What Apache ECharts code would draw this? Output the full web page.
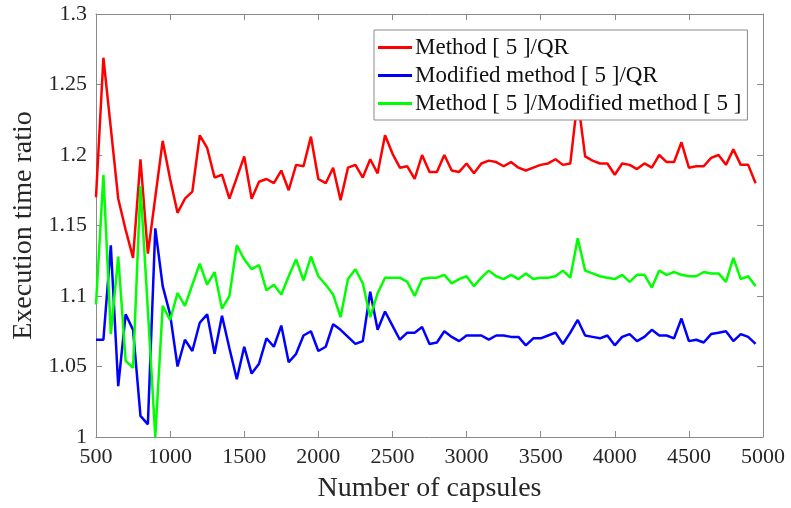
<!DOCTYPE html>
<html>
<head>
<meta charset="utf-8">
<script src="https://cdn.jsdelivr.net/npm/echarts@6/dist/echarts.min.js"></script>
<style>
  html, body { margin: 0; padding: 0; background: #fff; }
  #chart { width: 791px; height: 508px; }
</style>
</head>
<body>
<div id="chart"></div>
<script>
// number of capsules (x)
const capsules = [
  500, 550, 600, 650, 700, 750, 800, 850, 900, 950,
  1000, 1050, 1100, 1150, 1200, 1250, 1300, 1350, 1400, 1450,
  1500, 1550, 1600, 1650, 1700, 1750, 1800, 1850, 1900, 1950,
  2000, 2050, 2100, 2150, 2200, 2250, 2300, 2350, 2400, 2450,
  2500, 2550, 2600, 2650, 2700, 2750, 2800, 2850, 2900, 2950,
  3000, 3050, 3100, 3150, 3200, 3250, 3300, 3350, 3400, 3450,
  3500, 3550, 3600, 3650, 3700, 3750, 3800, 3850, 3900, 3950,
  4000, 4050, 4100, 4150, 4200, 4250, 4300, 4350, 4400, 4450,
  4500, 4550, 4600, 4650, 4700, 4750, 4800, 4850, 4900, 4950
];

// Method [5] / QR
const methodQR = [
  1.170, 1.269, 1.219, 1.169, 1.147, 1.127, 1.197, 1.130, 1.170, 1.210,
  1.183, 1.159, 1.169, 1.174, 1.214, 1.205, 1.184, 1.186, 1.169, 1.184,
  1.199, 1.169, 1.181, 1.183, 1.180, 1.189, 1.175, 1.193, 1.192, 1.213,
  1.183, 1.180, 1.191, 1.168, 1.191, 1.193, 1.184, 1.197, 1.187, 1.214,
  1.201, 1.191, 1.192, 1.183, 1.200, 1.188, 1.188, 1.200, 1.189, 1.188,
  1.194, 1.187, 1.194, 1.196, 1.195, 1.192, 1.195, 1.191, 1.189, 1.191,
  1.193, 1.194, 1.197, 1.193, 1.194, 1.240, 1.199, 1.196, 1.194, 1.194,
  1.186, 1.194, 1.193, 1.190, 1.194, 1.191, 1.200, 1.195, 1.195, 1.209,
  1.191, 1.192, 1.192, 1.198, 1.200, 1.193, 1.204, 1.193, 1.193, 1.180
];

// Modified method [5] / QR
const modifiedQR = [
  1.069, 1.069, 1.136, 1.036, 1.087, 1.076, 1.015, 1.009, 1.148, 1.107,
  1.087, 1.050, 1.069, 1.061, 1.081, 1.087, 1.059, 1.086, 1.063, 1.041,
  1.064, 1.045, 1.052, 1.070, 1.064, 1.079, 1.053, 1.059, 1.072, 1.075,
  1.061, 1.064, 1.080, 1.076, 1.071, 1.066, 1.068, 1.103, 1.076, 1.089,
  1.079, 1.069, 1.074, 1.074, 1.078, 1.066, 1.067, 1.075, 1.071, 1.068,
  1.072, 1.072, 1.072, 1.069, 1.072, 1.072, 1.071, 1.071, 1.065, 1.070,
  1.070, 1.072, 1.074, 1.066, 1.074, 1.083, 1.072, 1.071, 1.070, 1.072,
  1.065, 1.071, 1.073, 1.068, 1.071, 1.076, 1.072, 1.072, 1.070, 1.084,
  1.068, 1.069, 1.067, 1.073, 1.074, 1.075, 1.068, 1.073, 1.071, 1.066
];

// Method [5] / Modified method [5]
const methodModified = [
  1.094, 1.186, 1.073, 1.128, 1.054, 1.049, 1.178, 1.090, 1.000, 1.093,
  1.083, 1.102, 1.093, 1.108, 1.123, 1.108, 1.117, 1.091, 1.100, 1.136,
  1.126, 1.119, 1.122, 1.104, 1.108, 1.101, 1.114, 1.126, 1.111, 1.128,
  1.114, 1.108, 1.101, 1.085, 1.112, 1.119, 1.109, 1.085, 1.102, 1.113,
  1.113, 1.113, 1.110, 1.100, 1.112, 1.113, 1.113, 1.115, 1.109, 1.112,
  1.114, 1.107, 1.113, 1.118, 1.114, 1.112, 1.115, 1.112, 1.116, 1.112,
  1.113, 1.113, 1.114, 1.118, 1.113, 1.141, 1.118, 1.116, 1.114, 1.113,
  1.112, 1.115, 1.110, 1.115, 1.115, 1.106, 1.118, 1.115, 1.117, 1.115,
  1.114, 1.114, 1.117, 1.116, 1.116, 1.110, 1.127, 1.112, 1.114, 1.107
];

const seriesNames = [
  "Method [ 5 ]/QR",
  "Modified method [ 5 ]/QR",
  "Method [ 5 ]/Modified method [ 5 ]"
];

const serif = "Liberation Serif";
const axisGray = "#8a8a8a";
const textDark = "#262626";

const toPairs = (vals) => vals.map((v, i) => [capsules[i], v]);

const lineSeries = (name, vals, color) => ({
  name: name,
  type: "line",
  data: toPairs(vals),
  symbol: "none",
  lineStyle: { color: color, width: 2.5 },
  itemStyle: { color: color },
  xAxisIndex: 0,
  yAxisIndex: 0,
});

const chart = echarts.init(document.getElementById("chart"));

const option = {
  animation: false,
  grid: { left: 96, right: 28, top: 14, bottom: 68 },
  legend: {
    orient: "vertical",
    left: 374,
    top: 30,
    icon: "rect",
    itemWidth: 34,
    itemHeight: 3,
    itemGap: 5,
    padding: [6, 6, 5, 4],
    backgroundColor: "#fff",
    borderColor: axisGray,
    borderWidth: 1,
    borderRadius: 0,
    textStyle: { fontFamily: serif, fontSize: 23, color: "#111", padding: [0, 0, 0, -2] },
    data: seriesNames,
  },
  xAxis: [
    {
      type: "value",
      min: 500,
      max: 5000,
      interval: 500,
      name: "Number of capsules",
      nameLocation: "middle",
      nameGap: 38,
      nameTextStyle: { fontFamily: serif, fontSize: 28, color: textDark },
      axisLine: { lineStyle: { color: axisGray, width: 1 } },
      axisTick: { inside: true, length: 6, lineStyle: { color: axisGray } },
      axisLabel: {
        fontFamily: serif,
        fontSize: 22,
        color: textDark,
        margin: 9,
        formatter: (v) => String(v),
      },
      splitLine: { show: false },
    },
    {
      type: "value",
      position: "top",
      min: 500,
      max: 5000,
      interval: 500,
      axisLine: { lineStyle: { color: axisGray, width: 1 } },
      axisTick: { inside: true, length: 6, lineStyle: { color: axisGray } },
      axisLabel: { show: false },
      splitLine: { show: false },
    },
  ],
  yAxis: [
    {
      type: "value",
      min: 1,
      max: 1.3,
      interval: 0.05,
      name: "Execution time ratio",
      nameLocation: "middle",
      nameGap: 58,
      nameTextStyle: { fontFamily: serif, fontSize: 28, color: textDark },
      axisLine: { show: true, lineStyle: { color: axisGray, width: 1 } },
      axisTick: { show: true, inside: true, length: 6, lineStyle: { color: axisGray } },
      axisLabel: {
        fontFamily: serif,
        fontSize: 22,
        color: textDark,
        margin: 9,
        formatter: (v) => String(+v.toFixed(2)),
      },
      splitLine: { show: false },
    },
    {
      type: "value",
      position: "right",
      min: 1,
      max: 1.3,
      interval: 0.05,
      axisLine: { show: true, lineStyle: { color: axisGray, width: 1 } },
      axisTick: { show: true, inside: true, length: 6, lineStyle: { color: axisGray } },
      axisLabel: { show: false },
      splitLine: { show: false },
    },
  ],
  series: [
    lineSeries(seriesNames[0], methodQR, "#ff0000"),
    lineSeries(seriesNames[1], modifiedQR, "#0000ff"),
    lineSeries(seriesNames[2], methodModified, "#00ff00"),
  ],
};

chart.setOption(option);
window.addEventListener("resize", chart.resize);
</script>
</body>
</html>
